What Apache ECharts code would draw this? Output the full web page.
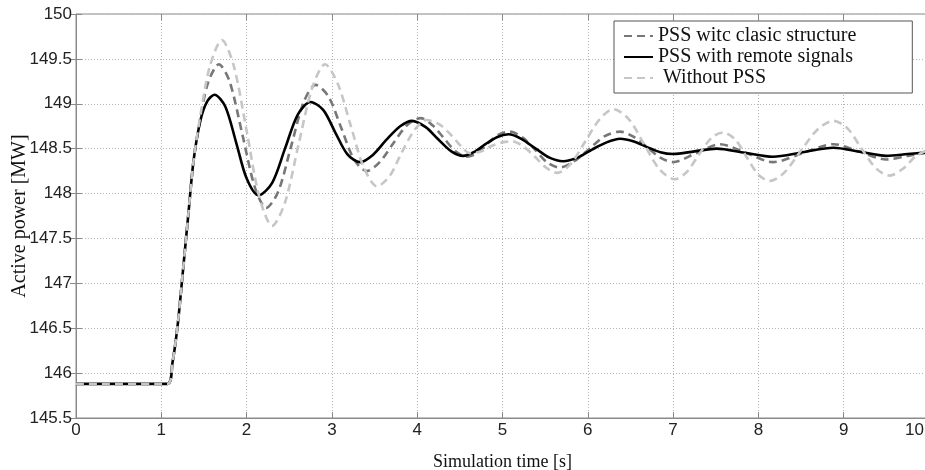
<!DOCTYPE html>
<html>
<head>
<meta charset="utf-8">
<script src="https://cdn.jsdelivr.net/npm/echarts@6/dist/echarts.min.js"></script>
<style>
  html, body { margin: 0; padding: 0; background: #fff; }
  #chart { width: 925px; height: 470px; }
</style>
</head>
<body>
<div id="chart"></div>
<script>
// series names, as in the legend
const seriesNames = ['PSS witc clasic structure', 'PSS with remote signals', ' Without PSS'];

// PSS with remote signals (black, solid)
const remoteTime = [0, 1.07, 1.13, 1.19, 1.25, 1.32, 1.38, 1.46, 1.54, 1.624, 1.75, 1.88, 2.0, 2.14, 2.3, 2.45, 2.6, 2.75, 2.9, 3.04, 3.18, 3.33, 3.48, 3.64, 3.8, 3.94, 4.1, 4.24, 4.4, 4.54, 4.68, 4.8, 4.94, 5.07, 5.22, 5.39, 5.55, 5.71, 5.88, 6.05, 6.22, 6.38, 6.54, 6.69, 6.85, 7.0, 7.25, 7.51, 7.84, 8.17, 8.52, 8.88, 9.19, 9.5, 9.75, 10];
const remoteValue = [145.88, 145.88, 146.11, 146.52, 147.1, 147.8, 148.38, 148.82, 149.03, 149.10, 148.97, 148.56, 148.17, 147.98, 148.12, 148.5, 148.88, 149.02, 148.93, 148.68, 148.44, 148.35, 148.43, 148.6, 148.75, 148.81, 148.74, 148.61, 148.47, 148.42, 148.47, 148.55, 148.63, 148.66, 148.61, 148.5, 148.4, 148.36, 148.4, 148.49, 148.57, 148.61, 148.58, 148.52, 148.46, 148.44, 148.47, 148.50, 148.455, 148.41, 148.46, 148.51, 148.465, 148.42, 148.44, 148.46];

// PSS with classic structure (dark gray, dashed)
const classicTime = [0, 1.07, 1.13, 1.19, 1.25, 1.32, 1.38, 1.46, 1.55, 1.675, 1.8, 1.95, 2.1, 2.23, 2.37, 2.52, 2.67, 2.81, 2.96, 3.11, 3.26, 3.41, 3.56, 3.72, 3.88, 4.04, 4.18, 4.31, 4.45, 4.58, 4.7, 4.83, 4.96, 5.09, 5.24, 5.38, 5.52, 5.67, 5.84, 6.02, 6.2, 6.38, 6.54, 6.69, 6.85, 7.0, 7.27, 7.55, 7.86, 8.17, 8.52, 8.88, 9.19, 9.5, 9.75, 10];
const classicValue = [145.88, 145.88, 146.11, 146.52, 147.1, 147.8, 148.38, 148.85, 149.24, 149.44, 149.25, 148.66, 148.06, 147.84, 148.02, 148.52, 149.02, 149.21, 149.08, 148.73, 148.38, 148.25, 148.35, 148.56, 148.76, 148.84, 148.76, 148.62, 148.47, 148.41, 148.45, 148.56, 148.66, 148.69, 148.62, 148.49, 148.35, 148.29, 148.36, 148.5, 148.64, 148.69, 148.63, 148.52, 148.4, 148.35, 148.45, 148.55, 148.45, 148.35, 148.45, 148.55, 148.465, 148.38, 148.42, 148.46];

// Without PSS (light gray, dashed)
const noPssTime = [0, 1.07, 1.13, 1.19, 1.25, 1.32, 1.38, 1.46, 1.57, 1.71, 1.85, 2.0, 2.15, 2.30, 2.45, 2.61, 2.77, 2.92, 3.07, 3.22, 3.37, 3.53, 3.68, 3.82, 3.97, 4.11, 4.26, 4.41, 4.52, 4.62, 4.75, 4.87, 5.0, 5.12, 5.25, 5.38, 5.51, 5.64, 5.8, 5.97, 6.14, 6.30, 6.48, 6.66, 6.84, 7.02, 7.16, 7.3, 7.45, 7.59, 7.73, 7.86, 8.0, 8.13, 8.3, 8.5, 8.7, 8.88, 9.05, 9.21, 9.38, 9.54, 9.7, 9.85, 10];
const noPssValue = [145.88, 145.88, 146.11, 146.52, 147.1, 147.8, 148.38, 148.88, 149.42, 149.71, 149.42, 148.7, 147.96, 147.64, 147.9, 148.55, 149.18, 149.44, 149.22, 148.76, 148.3, 148.08, 148.2, 148.46, 148.71, 148.82, 148.77, 148.64, 148.52, 148.45, 148.47, 148.53, 148.57, 148.58, 148.52, 148.41, 148.29, 148.23, 148.33, 148.58, 148.83, 148.94, 148.83, 148.55, 148.27, 148.16, 148.24, 148.43, 148.62, 148.68, 148.6, 148.41, 148.21, 148.14, 148.23, 148.48, 148.72, 148.81, 148.72, 148.5, 148.28, 148.20, 148.28, 148.42, 148.49];

function pairs(ts, vs) {
    return ts.map(function (t, i) { return [t, vs[i]]; });
}

const serif = '"Liberation Serif", "DejaVu Serif", serif';
const sans = '"Liberation Sans", Arial, sans-serif';
const gridLine = { show: true, lineStyle: { type: [1, 2], color: '#b5b5b5', width: 1 } };

var chart = echarts.init(document.getElementById('chart'));

chart.setOption({
    backgroundColor: '#fff',
    animation: false,
    grid: {
        left: 76, right: -4, top: 14, bottom: 52,
        outerBoundsMode: 'none',
        containLabel: false,
        show: true, borderColor: '#8a8a8a', borderWidth: 1
    },
    legend: {
        orient: 'vertical',
        left: 614, top: 21,
        padding: [5, 56, 5, 9],
        itemGap: 1,
        itemWidth: 29, itemHeight: 14,
        borderColor: '#555', borderWidth: 1,
        backgroundColor: '#fff',
        itemStyle: { opacity: 0 },
        textStyle: { fontFamily: serif, fontSize: 20, lineHeight: 19, color: '#111' },
        data: seriesNames
    },
    xAxis: [{
        type: 'value', min: 0, max: 10, interval: 1,
        name: 'Simulation time [s]', nameLocation: 'middle', nameGap: 35,
        nameTextStyle: { fontFamily: serif, fontSize: 18, color: '#111' },
        axisLine: { lineStyle: { color: '#8a8a8a' } },
        axisTick: { inside: true, length: 6, lineStyle: { color: '#8a8a8a' } },
        axisLabel: {
            fontFamily: sans, fontSize: 17, color: '#222', margin: 4, alignMaxLabel: 'right',
            formatter: function (v) { return v === 10 ? '{r|10}' : String(v); },
            rich: { r: { fontFamily: sans, fontSize: 17, color: '#222', padding: [0, 5, 0, 0] } }
        },
        splitLine: gridLine
    }, {
        type: 'value', min: 0, max: 10, interval: 1, position: 'top',
        axisLine: { show: false },
        axisTick: { inside: true, length: 6, lineStyle: { color: '#8a8a8a' } },
        axisLabel: { show: false }, splitLine: { show: false }
    }],
    yAxis: [{
        type: 'value', min: 145.5, max: 150, interval: 0.5,
        name: 'Active power [MW]', nameLocation: 'middle', nameGap: 46,
        nameMoveOverlap: false,
        nameTextStyle: { fontFamily: serif, fontSize: 20, color: '#111' },
        axisLine: { show: true, lineStyle: { color: '#8a8a8a' } },
        axisTick: { show: true, inside: true, length: 6, lineStyle: { color: '#8a8a8a' } },
        axisLabel: { fontFamily: sans, fontSize: 17, color: '#222', margin: 4 },
        splitLine: gridLine
    }, {
        type: 'value', min: 145.5, max: 150, interval: 0.5, position: 'right',
        axisLine: { show: false },
        axisTick: { show: true, inside: true, length: 6, lineStyle: { color: '#8a8a8a' } },
        axisLabel: { show: false }, splitLine: { show: false }
    }],
    series: [{
        name: seriesNames[0],
        type: 'line',
        data: pairs(classicTime, classicValue),
        smooth: 0.3, showSymbol: false, symbol: 'none',
        lineStyle: { color: '#777', width: 2.6, type: [8, 5] },
        itemStyle: { color: '#777' }
    }, {
        name: seriesNames[1],
        type: 'line',
        data: pairs(remoteTime, remoteValue),
        smooth: 0.3, showSymbol: false, symbol: 'none',
        lineStyle: { color: '#000', width: 2.6 },
        itemStyle: { color: '#000' }
    }, {
        name: seriesNames[2],
        type: 'line',
        data: pairs(noPssTime, noPssValue),
        smooth: 0.3, showSymbol: false, symbol: 'none',
        lineStyle: { color: '#c6c6c6', width: 2.6, type: [8, 5] },
        itemStyle: { color: '#c6c6c6' }
    }]
});
</script>
</body>
</html>
